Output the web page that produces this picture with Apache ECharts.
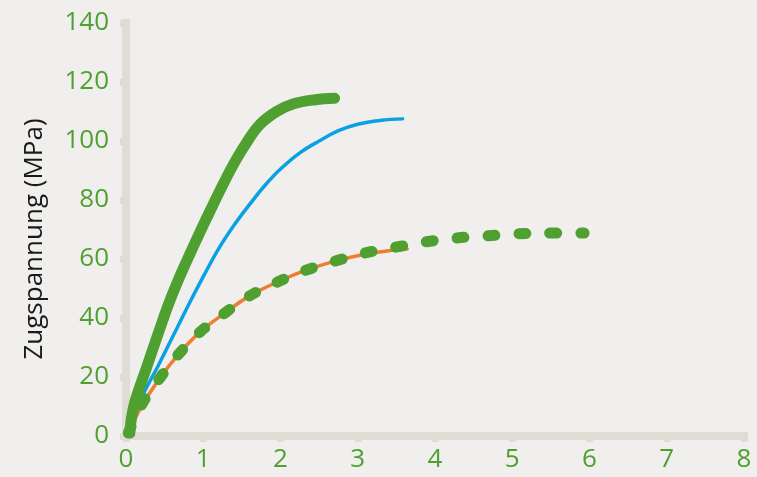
<!DOCTYPE html>
<html>
<head>
<meta charset="utf-8">
<script src="https://cdn.jsdelivr.net/npm/echarts@6/dist/echarts.min.js"></script>
<style>
  html, body { margin: 0; padding: 0; background: #f0efed; }
  #chart { width: 757px; height: 477px; }
</style>
</head>
<body>
<div id="chart"></div>
<script>
// Dehnung (%) / Zugspannung (MPa) pairs for each curve
const curveThick = [[0.05, 1], [0.07, 6], [0.12, 12], [0.27, 23.5], [0.42, 35], [0.57, 46], [0.72, 55.5],
  [0.85, 63], [1.0, 71.5], [1.12, 78], [1.26, 85.5], [1.4, 92.5], [1.55, 99], [1.73, 105.5], [1.95, 110],
  [2.17, 112.6], [2.45, 114], [2.70, 114.5]];
const curveBlue = [[0.05, 2], [0.15, 10], [0.25, 15.6], [0.42, 24], [0.63, 35], [0.83, 45.5], [1.0, 54],
  [1.2, 63.5], [1.4, 71.5], [1.6, 78.5], [1.8, 85], [2.0, 90.5], [2.25, 96], [2.5, 100], [2.75, 103.5],
  [3.0, 105.7], [3.3, 107], [3.58, 107.5]];
const curveOrange = [[0.05, 2], [0.2, 10], [0.44, 19.7], [0.69, 28], [0.96, 35.3], [1.28, 41.7], [1.60, 47.5],
  [1.96, 52.2], [2.34, 56.3], [2.71, 59.3], [3.09, 61.6], [3.4, 62.8], [3.64, 63.4]];
const curveDashed = [[0.03, 1], [0.2, 10.5], [0.44, 19.7], [0.69, 28], [0.96, 35.3], [1.28, 41.7], [1.60, 47.5],
  [1.96, 52.2], [2.34, 56.3], [2.71, 59.3], [3.09, 62], [3.49, 64], [3.88, 65.8], [4.27, 67.1], [4.66, 67.8],
  [5.05, 68.5], [5.45, 68.8], [5.93, 68.8]];

const xTicks = { min: 0, max: 8, step: 1 };
const yTicks = { min: 0, max: 140, step: 20 };
const yTitle = 'Zugspannung (MPa)';

const green = '#4fa031';
const axisGrey = '#dfdcd6';
const labelFont = 'Open Sans';

const axisLabel = (margin) => ({ color: green, fontSize: 26, fontFamily: labelFont, margin: margin });
const curve = (data, style) => ({
  type: 'line', data: data, smooth: 0.4, symbol: 'none', lineStyle: style
});

const chart = echarts.init(document.getElementById('chart'), null, { renderer: 'canvas' });
chart.setOption({
  backgroundColor: '#f0efed',
  animation: false,
  grid: { left: 126, right: 13, top: 23, bottom: 41, containLabel: false },
  xAxis: {
    type: 'value', min: xTicks.min, max: xTicks.max, interval: xTicks.step,
    axisLine: { show: true, lineStyle: { color: axisGrey, width: 8, cap: 'square' } },
    axisTick: { show: true, length: 6, lineStyle: { color: axisGrey, width: 7 } },
    splitLine: { show: false },
    axisLabel: axisLabel(11)
  },
  yAxis: {
    type: 'value', min: yTicks.min, max: yTicks.max, interval: yTicks.step, offset: 2,
    name: yTitle, nameLocation: 'middle', nameGap: 76,
    nameTextStyle: { color: '#1a1a1a', fontSize: 26, fontFamily: labelFont, padding: [0, 19, 0, 0] },
    axisLine: { show: true, lineStyle: { color: axisGrey, width: 8, cap: 'square' } },
    axisTick: { show: true, length: 6, lineStyle: { color: axisGrey, width: 7 } },
    splitLine: { show: false },
    axisLabel: axisLabel(15)
  },
  series: [
    curve(curveBlue, { color: '#0aa0e2', width: 3.5, cap: 'round' }),
    curve(curveOrange, { color: '#ef7d32', width: 3.5, cap: 'round' }),
    curve(curveDashed, { color: green, width: 11, type: [7, 24], cap: 'round' }),
    curve(curveThick, { color: green, width: 11, cap: 'round', join: 'round' })
  ]
});
</script>
</body>
</html>
